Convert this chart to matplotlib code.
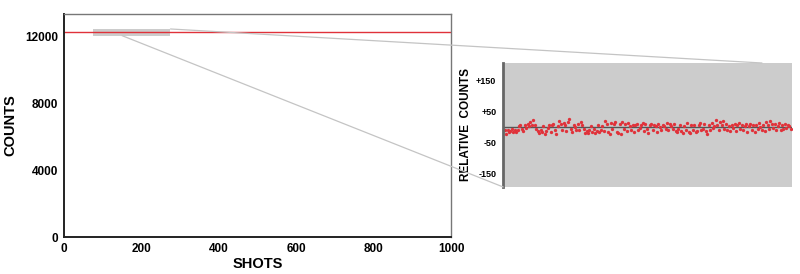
import numpy as np
import matplotlib
matplotlib.use("Agg")
import matplotlib.pyplot as plt
from matplotlib.patches import Rectangle, ConnectionPatch

plt.rcParams['font.family'] = ['Liberation Sans', 'DejaVu Sans']
plt.rcParams['font.weight'] = 'bold'

# main trace
shots_range = [0, 1000]
level = 12300
x_ticks = [0, 200, 400, 600, 800, 1000]
y_ticks = [0, 4000, 8000, 12000]

# zoomed window (shots 75..274), counts relative to level
zoom_start, zoom_end = 75, 275
rel_counts = [
    -10, -20, -8, -14, -12, -5, -15, -9, -16, -7, 3, 9, -4, -11, 6, -3, 11, 4, 16, 7,
    22, 8, -6, -12, -18, -8, -14, 4, -21, -11, -3, 6, -15, 8, 12, -8, -22, 3, 20, 11,
    -9, 15, 6, -12, 18, 28, -4, -14, 7, 2, -7, 12, -10, 16, 8, -6, -19, -12, -17, -8,
    4, -14, -4, -18, -11, 8, -15, -8, 3, -12, 20, 11, -14, -22, 15, -6, 12, 18, -16, -19,
    10, -20, 16, -4, 11, -11, 14, 4, -7, 8, -15, 6, 12, -8, -3, 7, 15, -12, 10, -6,
    -18, 6, 11, -10, 7, 3, -14, 11, 2, -8, 9, 4, -4, 14, -7, 10, 3, -6, 11, -11,
    -15, -4, 7, -12, -17, 4, -8, 14, -14, -19, 8, -10, 7, -16, -12, 6, 15, -8, -4, 12,
    -11, -20, 7, -7, 14, -3, 4, 24, 8, -8, 16, 6, 19, -4, 12, -7, 3, -11, 7, -3,
    10, -12, 6, 15, -6, 8, -10, 4, 12, -14, 3, 11, -7, 7, -16, 8, -4, 14, 2, -8,
    6, -11, 16, 7, -6, 21, 10, -3, 12, -10, 4, 15, -7, 8, -4, 11, -2, 6, 3, -4,
]
rel_ticks = [150, 50, -50, -150]
rel_labels = ['+150', '+50', '-50', '-150']

red = '#e0323a'

fig = plt.figure(figsize=(8, 2.74), dpi=100)
ax = fig.add_axes([0.08, 0.135, 0.484, 0.814])
ax.set_xlim(0, 1000)
ax.set_ylim(0, 13380)

ax.add_patch(Rectangle((zoom_start, level - 220), zoom_end - zoom_start, 420,
                       facecolor='#cccccc', edgecolor='none', zorder=1))
ax.plot(shots_range, [level, level], color=red, lw=1.0, zorder=2)

ax.set_xticks(x_ticks)
ax.set_yticks(y_ticks)
ax.tick_params(length=0, labelsize=8.5, pad=4)
ax.set_xlabel('SHOTS', fontsize=10.5, fontweight='bold', labelpad=2)
ax.set_ylabel('COUNTS', fontsize=10.5, fontweight='bold', labelpad=6)
for s in ['left', 'bottom']:
    ax.spines[s].set_color('#222222')
    ax.spines[s].set_linewidth(1.4)
for s in ['top', 'right']:
    ax.spines[s].set_color('#777777')
    ax.spines[s].set_linewidth(1.0)

# inset
ax2 = fig.add_axes([0.629, 0.3175, 0.361, 0.4526])
ax2.set_facecolor('#cccccc')
idx = np.arange(len(rel_counts))
ax2.axhline(0, color='#555555', lw=1.0, zorder=1)
ax2.plot(idx, rel_counts, 'o', color=red, ms=2.4, mec='none', zorder=2)
ax2.set_xlim(-1, len(rel_counts))
ax2.set_ylim(-192, 207)
ax2.set_xticks([])
ax2.set_yticks(rel_ticks)
ax2.set_yticklabels(rel_labels)
ax2.tick_params(length=0, labelsize=6.5, pad=5)
ax2.set_ylabel('RELATIVE  COUNTS', fontsize=8.5, fontweight='bold', labelpad=3)
for s in ['top', 'right', 'bottom']:
    ax2.spines[s].set_visible(False)
ax2.spines['left'].set_color('#666666')
ax2.spines['left'].set_linewidth(2.0)

# connector lines
con1 = ConnectionPatch(xyA=(zoom_end, level + 180), coordsA=ax.transData,
                       xyB=(0.896, 1.0), coordsB=ax2.transAxes,
                       color='#c4c4c4', lw=0.9)
con2 = ConnectionPatch(xyA=(150, level - 220), coordsA=ax.transData,
                       xyB=(0.0, 0.0), coordsB=ax2.transAxes,
                       color='#c4c4c4', lw=0.9)
fig.add_artist(con1)
fig.add_artist(con2)

fig.savefig('out.png', dpi=100)
